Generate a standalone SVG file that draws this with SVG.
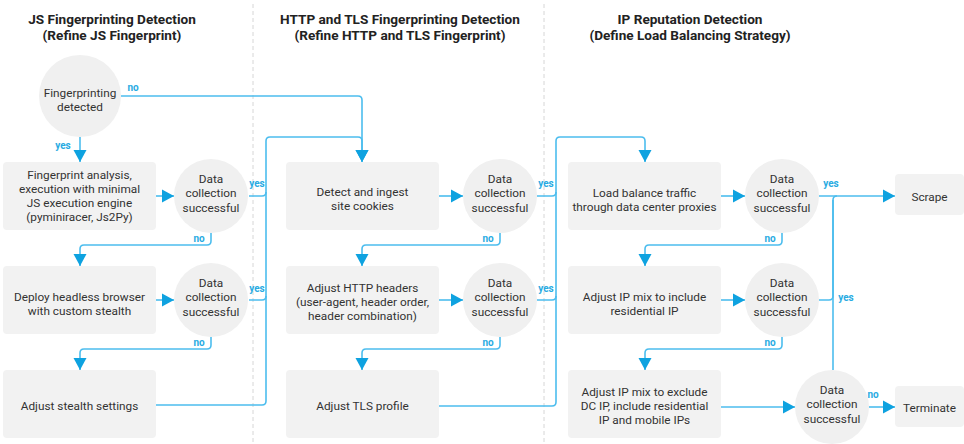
<svg xmlns="http://www.w3.org/2000/svg" width="964" height="444" viewBox="0 0 964 444">
  <defs>
    <style>
      .box { fill: #f2f2f2; }
      .circ { fill: #f0f0f0; }
      .t { font-family: Roboto, "Liberation Sans", sans-serif; font-size: 11.8px; fill: #333333; text-anchor: middle; }
      .h { font-family: Roboto, "Liberation Sans", sans-serif; font-size: 13.6px; font-weight: bold; fill: #222222; text-anchor: middle; }
      .lbl { font-family: Roboto, "Liberation Sans", sans-serif; font-size: 10px; font-weight: bold; fill: #29abe2; text-anchor: middle; }
      .ln { fill: none; stroke: #4cbdee; stroke-width: 1.6; }
      .div { stroke: #d6d6d6; stroke-width: 1; stroke-dasharray: 4 3; }
    </style>
    <marker id="arrow" markerUnits="userSpaceOnUse" markerWidth="14" markerHeight="14" viewBox="0 0 14 14" refX="12" refY="7" orient="auto">
      <path d="M0,0.5 L12,7 L0,13.5 Z" fill="#0ea2e0"/>
    </marker>
  </defs>

  <!-- column dividers -->
  <line class="div" x1="253" y1="4" x2="253" y2="444"/>
  <line class="div" x1="544" y1="4" x2="544" y2="444"/>

  <!-- column headings -->
  <g id="heading-js">
    <text class="h" x="112" y="24">JS Fingerprinting Detection</text>
    <text class="h" x="112" y="40">(Refine JS Fingerprint)</text>
  </g>
  <g id="heading-http">
    <text class="h" x="400" y="24">HTTP and TLS Fingerprinting Detection</text>
    <text class="h" x="400" y="40">(Refine HTTP and TLS Fingerprint)</text>
  </g>
  <g id="heading-ip">
    <text class="h" x="690" y="24">IP Reputation Detection</text>
    <text class="h" x="690" y="40">(Define Load Balancing Strategy)</text>
  </g>

  <!-- connectors -->
  <g id="connectors">
    <!-- start decision -->
    <path class="ln" d="M121,96 H358 Q362,96 362,100 V162" marker-end="url(#arrow)"/>
    <path class="ln" d="M80,137 V162" marker-end="url(#arrow)"/>
    <!-- column 1 -->
    <path class="ln" d="M156,196 H174" marker-end="url(#arrow)"/>
    <path class="ln" d="M211,233 V241 Q211,245 207,245 H84 Q80,245 80,249 V266" marker-end="url(#arrow)"/>
    <path class="ln" d="M156,300 H174" marker-end="url(#arrow)"/>
    <path class="ln" d="M211,337 V345 Q211,349 207,349 H84 Q80,349 80,353 V370" marker-end="url(#arrow)"/>
    <path class="ln" d="M156,405 H262 Q266,405 266,401 V141 Q266,137 270,137 H358 Q362,137 362,141 V162" marker-end="url(#arrow)"/>
    <path class="ln" d="M249,196 H262 Q266,196 266,192"/>
    <path class="ln" d="M249,300 H262 Q266,300 266,296"/>
    <!-- column 2 -->
    <path class="ln" d="M439,196 H463" marker-end="url(#arrow)"/>
    <path class="ln" d="M500,233 V241 Q500,245 496,245 H366 Q362,245 362,249 V266" marker-end="url(#arrow)"/>
    <path class="ln" d="M439,300 H463" marker-end="url(#arrow)"/>
    <path class="ln" d="M500,337 V345 Q500,349 496,349 H366 Q362,349 362,353 V370" marker-end="url(#arrow)"/>
    <path class="ln" d="M439,406 H552 Q556,406 556,402 V141 Q556,137 560,137 H641 Q645,137 645,141 V162" marker-end="url(#arrow)"/>
    <path class="ln" d="M537,196 H552 Q556,196 556,192"/>
    <path class="ln" d="M537,300 H552 Q556,300 556,296"/>
    <!-- column 3 -->
    <path class="ln" d="M721,196 H745" marker-end="url(#arrow)"/>
    <path class="ln" d="M782,233 V241 Q782,245 778,245 H649 Q645,245 645,249 V266" marker-end="url(#arrow)"/>
    <path class="ln" d="M721,300 H745" marker-end="url(#arrow)"/>
    <path class="ln" d="M782,337 V345 Q782,349 778,349 H649 Q645,349 645,353 V370" marker-end="url(#arrow)"/>
    <path class="ln" d="M721,407 H795" marker-end="url(#arrow)"/>
    <path class="ln" d="M819,196 H895" marker-end="url(#arrow)"/>
    <path class="ln" d="M819,300 H829 Q833,300 833,296 V200 Q833,196 837,196"/>
    <path class="ln" d="M833,370 V200"/>
    <path class="ln" d="M869,407 H895" marker-end="url(#arrow)"/>
    <!-- labels -->
    <text class="lbl" x="133" y="91">no</text>
    <text class="lbl" x="63" y="149">yes</text>
    <text class="lbl" x="199" y="242">no</text>
    <text class="lbl" x="199" y="346">no</text>
    <text class="lbl" x="257" y="187">yes</text>
    <text class="lbl" x="257" y="292">yes</text>
    <text class="lbl" x="488" y="242">no</text>
    <text class="lbl" x="488" y="346">no</text>
    <text class="lbl" x="546" y="187">yes</text>
    <text class="lbl" x="546" y="292">yes</text>
    <text class="lbl" x="770" y="242">no</text>
    <text class="lbl" x="770" y="346">no</text>
    <text class="lbl" x="831" y="187">yes</text>
    <text class="lbl" x="846" y="301">yes</text>
    <text class="lbl" x="873" y="398">no</text>
  </g>

  <!-- start -->
  <g id="fp-detected">
    <circle class="circ" cx="80" cy="96" r="41"/>
    <text class="t" x="80" y="96.5">Fingerprinting</text>
    <text class="t" x="80" y="110.5">detected</text>
  </g>

  <!-- column 1 nodes -->
  <g id="fp-analysis">
    <rect class="box" x="3" y="162" width="153" height="68" rx="4"/>
    <text class="t" x="79.5" y="178.5">Fingerprint analysis,</text>
    <text class="t" x="79.5" y="193">execution with minimal</text>
    <text class="t" x="79.5" y="207">JS execution engine</text>
    <text class="t" x="79.5" y="221">(pyminiracer, Js2Py)</text>
  </g>
  <g id="dc-js-1">
    <circle class="circ" cx="211" cy="196" r="37"/>
    <text class="t" x="211" y="182.5">Data</text>
    <text class="t" x="211" y="197">collection</text>
    <text class="t" x="211" y="211.5">successful</text>
  </g>
  <g id="headless">
    <rect class="box" x="3" y="266" width="153" height="68" rx="4"/>
    <text class="t" x="79.5" y="300.5">Deploy headless browser</text>
    <text class="t" x="79.5" y="315">with custom stealth</text>
  </g>
  <g id="dc-js-2">
    <circle class="circ" cx="211" cy="300" r="37"/>
    <text class="t" x="211" y="286.5">Data</text>
    <text class="t" x="211" y="301">collection</text>
    <text class="t" x="211" y="315.5">successful</text>
  </g>
  <g id="stealth">
    <rect class="box" x="3" y="370" width="153" height="68" rx="4"/>
    <text class="t" x="79.5" y="409.5">Adjust stealth settings</text>
  </g>

  <!-- column 2 nodes -->
  <g id="cookies">
    <rect class="box" x="286" y="162" width="153" height="68" rx="4"/>
    <text class="t" x="362.5" y="195.5">Detect and ingest</text>
    <text class="t" x="362.5" y="209.5">site cookies</text>
  </g>
  <g id="dc-http-1">
    <circle class="circ" cx="500" cy="196" r="37"/>
    <text class="t" x="500" y="182.5">Data</text>
    <text class="t" x="500" y="197">collection</text>
    <text class="t" x="500" y="211.5">successful</text>
  </g>
  <g id="headers">
    <rect class="box" x="286" y="266" width="153" height="68" rx="4"/>
    <text class="t" x="362.5" y="291.5">Adjust HTTP headers</text>
    <text class="t" x="362.5" y="306">(user-agent, header order,</text>
    <text class="t" x="362.5" y="320">header combination)</text>
  </g>
  <g id="dc-http-2">
    <circle class="circ" cx="500" cy="300" r="37"/>
    <text class="t" x="500" y="286.5">Data</text>
    <text class="t" x="500" y="301">collection</text>
    <text class="t" x="500" y="315.5">successful</text>
  </g>
  <g id="tls">
    <rect class="box" x="286" y="370" width="153" height="68" rx="4"/>
    <text class="t" x="362.5" y="409.5">Adjust TLS profile</text>
  </g>

  <!-- column 3 nodes -->
  <g id="dc-proxies">
    <rect class="box" x="568" y="162" width="153" height="68" rx="4"/>
    <text class="t" x="644.5" y="196.5">Load balance traffic</text>
    <text class="t" x="644.5" y="210.5">through data center proxies</text>
  </g>
  <g id="dc-ip-1">
    <circle class="circ" cx="782" cy="196" r="37"/>
    <text class="t" x="782" y="182.5">Data</text>
    <text class="t" x="782" y="197">collection</text>
    <text class="t" x="782" y="211.5">successful</text>
  </g>
  <g id="residential">
    <rect class="box" x="568" y="266" width="153" height="68" rx="4"/>
    <text class="t" x="644.5" y="300.5">Adjust IP mix to include</text>
    <text class="t" x="644.5" y="315">residential IP</text>
  </g>
  <g id="dc-ip-2">
    <circle class="circ" cx="782" cy="300" r="37"/>
    <text class="t" x="782" y="286.5">Data</text>
    <text class="t" x="782" y="301">collection</text>
    <text class="t" x="782" y="315.5">successful</text>
  </g>
  <g id="mobile">
    <rect class="box" x="568" y="370" width="153" height="68" rx="4"/>
    <text class="t" x="644.5" y="395.5">Adjust IP mix to exclude</text>
    <text class="t" x="644.5" y="409.5">DC IP, include residential</text>
    <text class="t" x="644.5" y="423.5">IP and mobile IPs</text>
  </g>
  <g id="dc-ip-3">
    <circle class="circ" cx="832" cy="407" r="37"/>
    <text class="t" x="832" y="393.5">Data</text>
    <text class="t" x="832" y="408">collection</text>
    <text class="t" x="832" y="422.5">successful</text>
  </g>
  <g id="scrape">
    <rect class="box" x="895" y="174" width="69" height="41" rx="4"/>
    <text class="t" x="929.5" y="200.5">Scrape</text>
  </g>
  <g id="terminate">
    <rect class="box" x="895" y="386" width="69" height="41" rx="4"/>
    <text class="t" x="929.5" y="411.5">Terminate</text>
  </g>
</svg>
